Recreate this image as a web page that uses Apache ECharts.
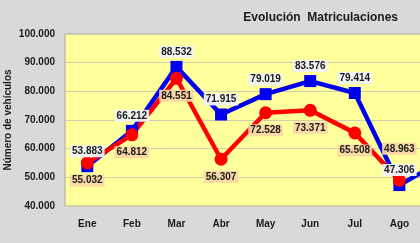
<!DOCTYPE html>
<html>
<head>
<meta charset="utf-8">
<script src="https://cdn.jsdelivr.net/npm/echarts@6/dist/echarts.min.js"></script>
<style>
html,body{margin:0;padding:0;background:#d9d9d9;}
#c{width:420px;height:243px;}
</style>
</head>
<body>
<div id="c"></div>
<script>
var categories = ['Ene','Feb','Mar','Abr','May','Jun','Jul','Ago','Sep','Oct','Nov','Dic'];
var serieAzul = [53883,66212,88532,71915,79019,83576,79414,47306,56000,null,null,null];
var serieRoja = [55032,64812,84551,56307,72528,73371,65508,48963,null,null,null,null];
var yTicks = [40000,50000,60000,70000,80000,90000,100000];

function fmt(v){
  return String(v).replace(/\B(?=(\d{3})+(?!\d))/g,'.');
}
var FONT = 'Liberation Sans';
var chart = echarts.init(document.getElementById('c'), null, {renderer:'canvas'});

var rojaData = serieRoja.map(function(v,i){
  if (i === 7) return {value:v, label:{position:'top', distance:19}};
  return v;
});

chart.setOption({
  animation:false,
  backgroundColor:'#d9d9d9',
  title:{
    text:'Evolución  Matriculaciones',
    right:17, top:7,
    textStyle:{fontFamily:FONT, fontWeight:'bold', fontSize:12, color:'#1a1a1a'}
  },
  grid:{left:65, top:34, width:535, height:172, show:true, backgroundColor:'#ffff9c', borderColor:'#a8a8a0', borderWidth:1,
        containLabel:false, outerBoundsMode:'none'},
  xAxis:{
    type:'category', data:categories, boundaryGap:true,
    axisLine:{show:false}, axisTick:{show:false},
    axisLabel:{fontFamily:FONT, fontWeight:'bold', fontSize:10, color:'#1a1a1a', margin:13, interval:0}
  },
  yAxis:{
    type:'value', min:yTicks[0], max:yTicks[yTicks.length-1], interval:10000,
    name:'Número de vehículos', nameLocation:'middle', nameGap:52, nameMoveOverlap:false,
    nameTextStyle:{fontFamily:FONT, fontWeight:'bold', fontSize:10, color:'#1a1a1a'},
    axisLine:{show:false}, axisTick:{show:false},
    axisLabel:{fontFamily:FONT, fontWeight:'bold', fontSize:10, color:'#1a1a1a', margin:10, formatter:fmt},
    splitLine:{lineStyle:{color:'#cfcfb0', width:1}}
  },
  series:[
    {
      name:'Azul', type:'line', data:serieAzul, connectNulls:false,
      symbol:'rect', symbolSize:12,
      lineStyle:{color:'#0000ee', width:4.5},
      itemStyle:{color:'#0000ee'},
      label:{show:true, position:'top', distance:3, formatter:function(p){return fmt(p.value);},
        fontFamily:FONT, fontWeight:'bold', fontSize:10, color:'#1a1a1a',
        backgroundColor:'rgba(240,242,246,0.95)', padding:[1,2]},
      labelLayout:{hideOverlap:false},
      z:2
    },
    {
      name:'Roja', type:'line', data:rojaData,
      symbol:'circle', symbolSize:13,
      lineStyle:{color:'#ff0000', width:4.5},
      itemStyle:{color:'#ff0000'},
      label:{show:true, position:'bottom', distance:5, formatter:function(p){return fmt(p.value);},
        fontFamily:FONT, fontWeight:'bold', fontSize:10, color:'#1a1a1a',
        backgroundColor:'rgba(250,214,165,0.92)', padding:[1,2]},
      labelLayout:{hideOverlap:false},
      z:2
    }
  ]
});
</script>
</body>
</html>
